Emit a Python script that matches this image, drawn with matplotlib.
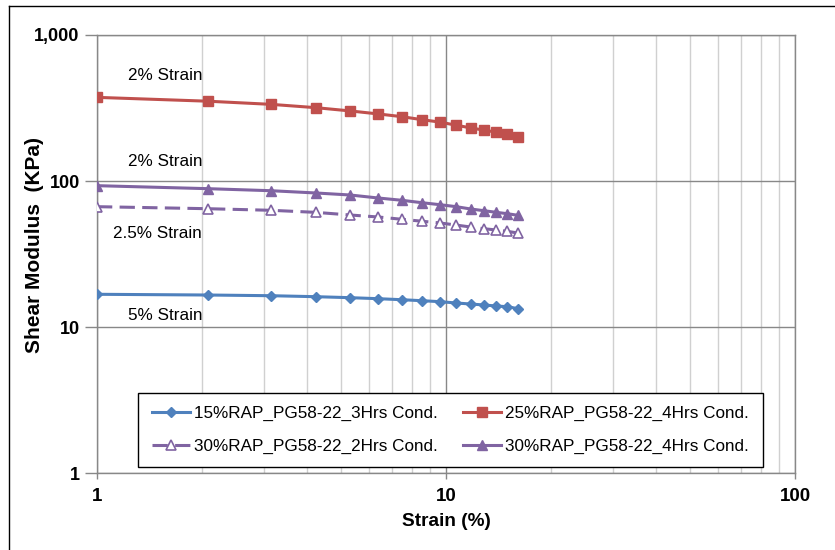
import matplotlib
matplotlib.use('Agg')
import matplotlib.pyplot as plt
from matplotlib.lines import Line2D
from matplotlib.ticker import FixedLocator, NullLocator, NullFormatter, FixedFormatter

# ---------------- data ----------------
strain = [1.0, 2.08, 3.15, 4.23, 5.31, 6.39, 7.46, 8.54, 9.62, 10.7, 11.77, 12.85, 13.93, 15.0, 16.08]
rap15_3h = [16.75, 16.56, 16.38, 16.13, 15.88, 15.63, 15.38, 15.14, 14.91, 14.6, 14.37, 14.15, 13.93, 13.77, 13.35]
rap25_4h = [374, 352, 335, 318, 302, 288, 276, 263, 253, 241, 231, 223, 216, 209, 201]
rap30_2h = [66.7, 64.6, 63.0, 61.0, 58.5, 56.7, 54.7, 53.0, 51.6, 49.9, 48.4, 47.1, 46.2, 45.2, 44.0]
rap30_4h = [92.9, 88.6, 85.8, 82.8, 80.2, 76.5, 73.8, 71.0, 68.8, 66.7, 64.3, 62.6, 61.0, 59.7, 58.2]

series_labels = ["15%RAP_PG58-22_3Hrs Cond.", "25%RAP_PG58-22_4Hrs Cond.",
                 "30%RAP_PG58-22_2Hrs Cond.", "30%RAP_PG58-22_4Hrs Cond."]

annot_texts = ["2% Strain", "2% Strain", "2.5% Strain", "5% Strain"]
annot_y = [526, 135.6, 43.4, 11.95]
annot_x = 2.0

x_ticks = [1, 10, 100]
x_ticklabels = ["1", "10", "100"]
y_ticks = [1, 10, 100, 1000]
y_ticklabels = ["1", "10", "100", "1,000"]
x_label = "Strain (%)"
y_label = "Shear Modulus  (KPa)"

# ---------------- style ----------------
FONT = ['Liberation Sans', 'DejaVu Sans']
plt.rcParams['font.family'] = FONT
BLUE = '#4F81BD'
RED = '#C0504D'
PURPLE = '#8064A2'
GRID_MAJ = '#888888'
GRID_MIN = '#D0D0D0'

W, H = 835, 550
fig = plt.figure(figsize=(W / 100, H / 100), dpi=100)
ax = fig.add_axes([97 / W, 1 - 473 / H, (795 - 97) / W, (473 - 35) / H])

ax.set_xscale('log')
ax.set_yscale('log')
ax.set_xlim(1, 100)
ax.set_ylim(1, 1000)

lw = 2.2
h_blue, = ax.plot(strain, rap15_3h, color=BLUE, lw=lw, marker='D', ms=5.2,
                  mfc=BLUE, mec=BLUE, label=series_labels[0], zorder=5)
h_red, = ax.plot(strain, rap25_4h, color=RED, lw=lw, marker='s', ms=7.2,
                 mfc=RED, mec=RED, label=series_labels[1], zorder=5)
h_dash, = ax.plot(strain, rap30_2h, color=PURPLE, lw=lw, ls=(0, (5, 2.4)), marker='^', ms=7.5,
                  mfc='white', mec=PURPLE, mew=1.2, label=series_labels[2], zorder=5)
h_pur, = ax.plot(strain, rap30_4h, color=PURPLE, lw=lw, marker='^', ms=7.5,
                 mfc=PURPLE, mec=PURPLE, label=series_labels[3], zorder=5)

# ticks and grid
ax.xaxis.set_major_locator(FixedLocator(x_ticks))
ax.xaxis.set_major_formatter(FixedFormatter(x_ticklabels))
ax.xaxis.set_minor_locator(FixedLocator([2, 3, 4, 5, 6, 7, 8, 9, 20, 30, 40, 50, 60, 70, 80, 90]))
ax.xaxis.set_minor_formatter(NullFormatter())
ax.yaxis.set_major_locator(FixedLocator(y_ticks))
ax.yaxis.set_major_formatter(FixedFormatter(y_ticklabels))
ax.yaxis.set_minor_locator(NullLocator())

ax.grid(True, which='major', axis='both', color=GRID_MAJ, lw=1.0, zorder=1)
ax.grid(True, which='minor', axis='x', color=GRID_MIN, lw=1.0, zorder=1)
ax.set_axisbelow(True)

ax.tick_params(axis='x', which='major', direction='out', length=4.5, width=1, color=GRID_MAJ,
               pad=6.5, labelsize=13.5)
ax.tick_params(axis='y', which='major', direction='out', length=8.5, width=1, color=GRID_MAJ,
               pad=4, labelsize=13)
ax.tick_params(axis='x', which='minor', length=0)
for lab in ax.get_xticklabels() + ax.get_yticklabels():
    lab.set_fontweight('bold')

for sp in ax.spines.values():
    sp.set_color(GRID_MAJ)
    sp.set_linewidth(1.0)

# annotations
for t, yv in zip(annot_texts, annot_y):
    ax.text(annot_x, yv, t, ha='right', va='center', fontsize=12.3, color='black', zorder=6)

# axis labels
fig.text(446 / W, 1 - 522 / H, x_label, ha='center', va='center', fontsize=13.7, fontweight='bold')
fig.text(35 / W, 1 - 245 / H, y_label, ha='center', va='center', rotation=90,
         fontsize=15, fontweight='bold')

# legend
leg = ax.legend(handles=[h_blue, h_dash, h_red, h_pur], ncol=2, loc='center',
                bbox_to_anchor=(450.5 / W, 1 - 430 / H), bbox_transform=fig.transFigure,
                fontsize=12.3, frameon=True, fancybox=False, framealpha=1,
                edgecolor='black', handlelength=2.2, handletextpad=0.25,
                columnspacing=1.5, borderpad=0.8, labelspacing=1.0, borderaxespad=0)
leg.get_frame().set_linewidth(1.0)
leg.set_zorder(10)

# figure border (left and top edges visible in reference)
fig.add_artist(Line2D([9 / W, 9 / W], [0, 1 - 6 / H], transform=fig.transFigure, color='black', lw=1.0))
fig.add_artist(Line2D([9 / W, 1], [1 - 6 / H, 1 - 6 / H], transform=fig.transFigure, color='black', lw=1.0))

fig.savefig('out.png', dpi=100, facecolor='white')
